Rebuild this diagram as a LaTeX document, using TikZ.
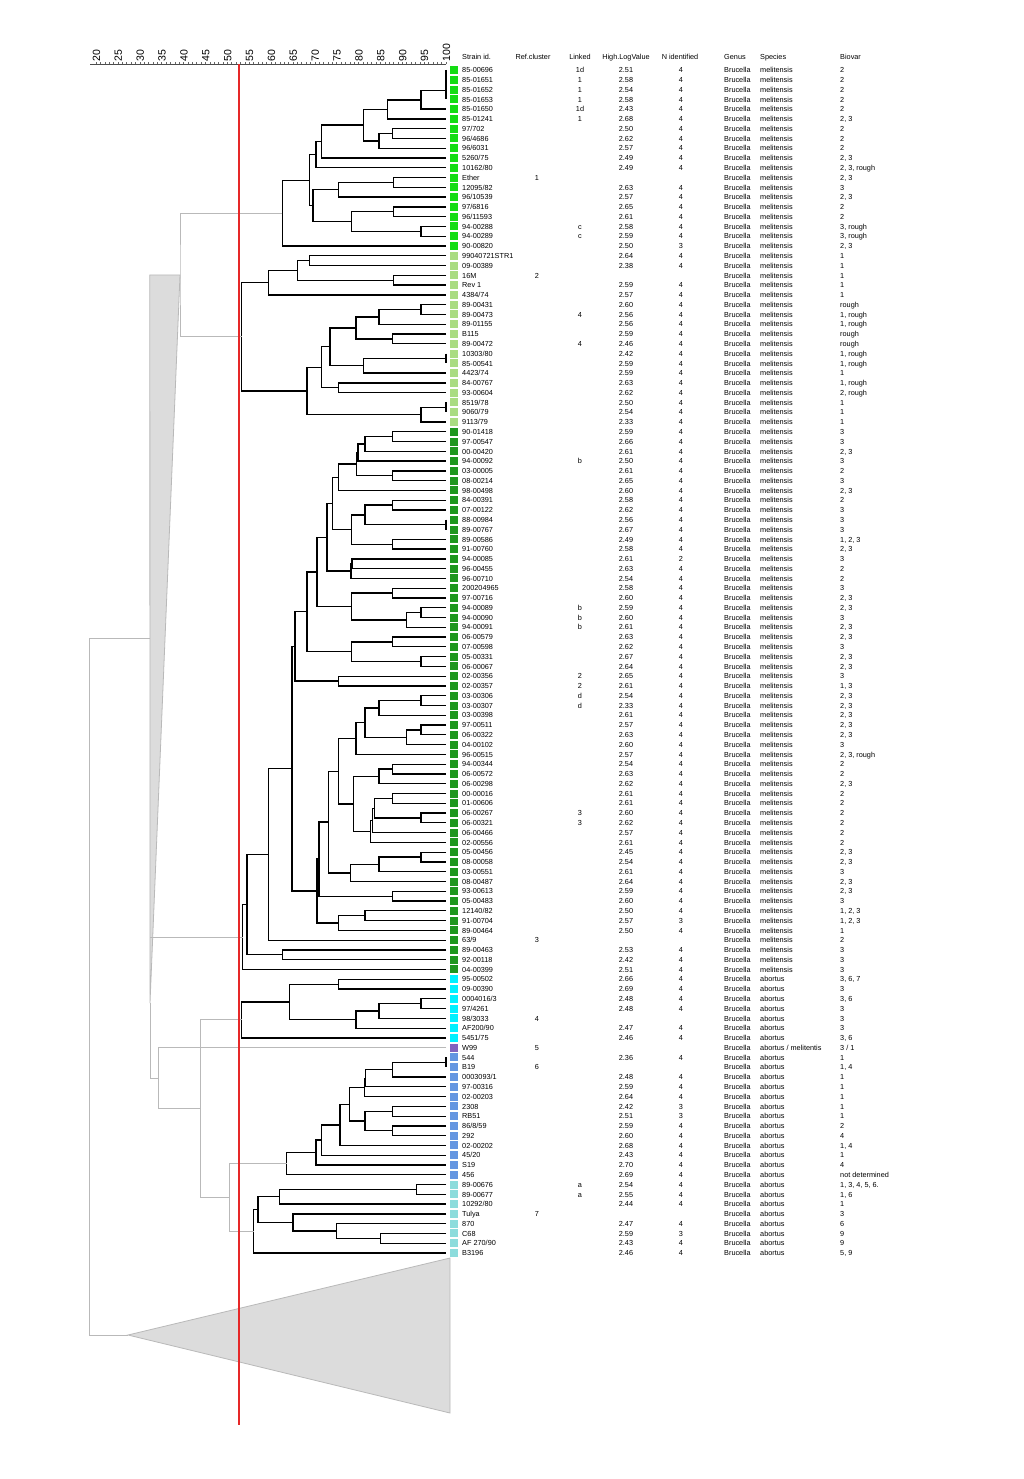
\documentclass[tikz,border=0pt]{standalone}
\usepackage{fontspec}
\setmainfont{Liberation Sans}
\usetikzlibrary{calc}
\definecolor{cA}{RGB}{20,220,20}
\definecolor{cB}{RGB}{170,220,130}
\definecolor{cD}{RGB}{30,150,30}
\definecolor{cC}{RGB}{0,240,255}
\definecolor{cW}{RGB}{130,100,190}
\definecolor{cE}{RGB}{100,150,225}
\definecolor{cF}{RGB}{140,220,220}
\definecolor{redl}{RGB}{230,40,40}
\definecolor{grl}{RGB}{185,185,185}
\definecolor{trif}{RGB}{220,220,220}
\newcommand\rw[9]{%
\coordinate (r#1) at (446,{70+(#1-1)*9.777});
\fill[#2] (450,{66+(#1-1)*9.777}) rectangle (457.5,{74+(#1-1)*9.777});
\node[tl] at (462,{72.7+(#1-1)*9.777}) {#3};
\node[tc] at (537,{72.7+(#1-1)*9.777}) {#4};
\node[tc] at (580,{72.7+(#1-1)*9.777}) {#5};
\node[tc] at (626,{72.7+(#1-1)*9.777}) {#6};
\node[tc] at (681,{72.7+(#1-1)*9.777}) {#7};
\node[tl] at (724,{72.7+(#1-1)*9.777}) {Brucella};
\node[tl] at (760,{72.7+(#1-1)*9.777}) {#8};
\node[tl] at (840,{72.7+(#1-1)*9.777}) {#9};}
\newcommand\jc[4]{\path let \p1=(#3), \p2=(#4) in coordinate (#1) at ({((#2)-20)*4.375pt+96pt},{0.5*\y1+0.5*\y2});}
\newcommand\jn[5][br]{\jc{#2}{#3}{#4}{#5}\draw[#1] (#4) -| (#2) |- (#5);}
\begin{document}
\begin{tikzpicture}[x=1pt,y=-1pt,
  br/.style={line width=1.3pt,black,line join=miter},
  gr/.style={line width=1pt,grl},
  tri/.style={fill=trif,draw=grl,line width=0.8pt},
  tl/.style={font=\fontsize{7.3}{8}\selectfont,inner sep=0pt,anchor=base west},
  tc/.style={font=\fontsize{7.3}{8}\selectfont,inner sep=0pt,anchor=base}]
\useasboundingbox (0,0) rectangle (1024,1479);
\fill[white] (0,0) rectangle (1024,1479);
% axis
\draw[line width=0.6pt,black!70] (90,64.5) -- (446,64.5);
\foreach \s in {20,21,...,100} \draw[black!60,line width=0.5pt] ({(\s-20)*4.375+96},64.5) -- ++(0,-2);
\foreach \s in {20,25,...,100} \node[font=\fontsize{10.5}{11}\selectfont,inner sep=0pt,rotate=90,anchor=west] at ({(\s-20)*4.375+96.5},61.5) {\s};
% headers
\node[tl] at (462,59.5) {Strain id.};
\node[tc] at (533,59.5) {Ref.cluster};
\node[tc] at (580,59.5) {Linked};
\node[tc] at (626,59.5) {High.LogValue};
\node[tc] at (680,59.5) {N identified};
\node[tl] at (724,59.5) {Genus};
\node[tl] at (760,59.5) {Species};
\node[tl] at (840,59.5) {Biovar};
% rows
\rw{1}{cA}{85-00696}{}{1d}{2.51}{4}{melitensis}{2}
\rw{2}{cA}{85-01651}{}{1}{2.58}{4}{melitensis}{2}
\rw{3}{cA}{85-01652}{}{1}{2.54}{4}{melitensis}{2}
\rw{4}{cA}{85-01653}{}{1}{2.58}{4}{melitensis}{2}
\rw{5}{cA}{85-01650}{}{1d}{2.43}{4}{melitensis}{2}
\rw{6}{cA}{85-01241}{}{1}{2.68}{4}{melitensis}{2, 3}
\rw{7}{cA}{97/702}{}{}{2.50}{4}{melitensis}{2}
\rw{8}{cA}{96/4686}{}{}{2.62}{4}{melitensis}{2}
\rw{9}{cA}{96/6031}{}{}{2.57}{4}{melitensis}{2}
\rw{10}{cA}{5260/75}{}{}{2.49}{4}{melitensis}{2, 3}
\rw{11}{cA}{10162/80}{}{}{2.49}{4}{melitensis}{2, 3, rough}
\rw{12}{cA}{Ether}{1}{}{}{}{melitensis}{2, 3}
\rw{13}{cA}{12095/82}{}{}{2.63}{4}{melitensis}{3}
\rw{14}{cA}{96/10539}{}{}{2.57}{4}{melitensis}{2, 3}
\rw{15}{cA}{97/6816}{}{}{2.65}{4}{melitensis}{2}
\rw{16}{cA}{96/11593}{}{}{2.61}{4}{melitensis}{2}
\rw{17}{cA}{94-00288}{}{c}{2.58}{4}{melitensis}{3, rough}
\rw{18}{cA}{94-00289}{}{c}{2.59}{4}{melitensis}{3, rough}
\rw{19}{cA}{90-00820}{}{}{2.50}{3}{melitensis}{2, 3}
\rw{20}{cB}{99040721STR1}{}{}{2.64}{4}{melitensis}{1}
\rw{21}{cB}{09-00389}{}{}{2.38}{4}{melitensis}{1}
\rw{22}{cB}{16M}{2}{}{}{}{melitensis}{1}
\rw{23}{cB}{Rev 1}{}{}{2.59}{4}{melitensis}{1}
\rw{24}{cB}{4384/74}{}{}{2.57}{4}{melitensis}{1}
\rw{25}{cB}{89-00431}{}{}{2.60}{4}{melitensis}{rough}
\rw{26}{cB}{89-00473}{}{4}{2.56}{4}{melitensis}{1, rough}
\rw{27}{cB}{89-01155}{}{}{2.56}{4}{melitensis}{1, rough}
\rw{28}{cB}{B115}{}{}{2.59}{4}{melitensis}{rough}
\rw{29}{cB}{89-00472}{}{4}{2.46}{4}{melitensis}{rough}
\rw{30}{cB}{10303/80}{}{}{2.42}{4}{melitensis}{1, rough}
\rw{31}{cB}{85-00541}{}{}{2.59}{4}{melitensis}{1, rough}
\rw{32}{cB}{4423/74}{}{}{2.59}{4}{melitensis}{1}
\rw{33}{cB}{84-00767}{}{}{2.63}{4}{melitensis}{1, rough}
\rw{34}{cB}{93-00604}{}{}{2.62}{4}{melitensis}{2, rough}
\rw{35}{cB}{8519/78}{}{}{2.50}{4}{melitensis}{1}
\rw{36}{cB}{9060/79}{}{}{2.54}{4}{melitensis}{1}
\rw{37}{cB}{9113/79}{}{}{2.33}{4}{melitensis}{1}
\rw{38}{cD}{90-01418}{}{}{2.59}{4}{melitensis}{3}
\rw{39}{cD}{97-00547}{}{}{2.66}{4}{melitensis}{3}
\rw{40}{cD}{00-00420}{}{}{2.61}{4}{melitensis}{2, 3}
\rw{41}{cD}{94-00092}{}{b}{2.50}{4}{melitensis}{3}
\rw{42}{cD}{03-00005}{}{}{2.61}{4}{melitensis}{2}
\rw{43}{cD}{08-00214}{}{}{2.65}{4}{melitensis}{3}
\rw{44}{cD}{98-00498}{}{}{2.60}{4}{melitensis}{2, 3}
\rw{45}{cD}{84-00391}{}{}{2.58}{4}{melitensis}{2}
\rw{46}{cD}{07-00122}{}{}{2.62}{4}{melitensis}{3}
\rw{47}{cD}{88-00984}{}{}{2.56}{4}{melitensis}{3}
\rw{48}{cD}{89-00767}{}{}{2.67}{4}{melitensis}{3}
\rw{49}{cD}{89-00586}{}{}{2.49}{4}{melitensis}{1, 2, 3}
\rw{50}{cD}{91-00760}{}{}{2.58}{4}{melitensis}{2, 3}
\rw{51}{cD}{94-00085}{}{}{2.61}{2}{melitensis}{3}
\rw{52}{cD}{96-00455}{}{}{2.63}{4}{melitensis}{2}
\rw{53}{cD}{96-00710}{}{}{2.54}{4}{melitensis}{2}
\rw{54}{cD}{200204965}{}{}{2.58}{4}{melitensis}{3}
\rw{55}{cD}{97-00716}{}{}{2.60}{4}{melitensis}{2, 3}
\rw{56}{cD}{94-00089}{}{b}{2.59}{4}{melitensis}{2, 3}
\rw{57}{cD}{94-00090}{}{b}{2.60}{4}{melitensis}{3}
\rw{58}{cD}{94-00091}{}{b}{2.61}{4}{melitensis}{2, 3}
\rw{59}{cD}{06-00579}{}{}{2.63}{4}{melitensis}{2, 3}
\rw{60}{cD}{07-00598}{}{}{2.62}{4}{melitensis}{3}
\rw{61}{cD}{05-00331}{}{}{2.67}{4}{melitensis}{2, 3}
\rw{62}{cD}{06-00067}{}{}{2.64}{4}{melitensis}{2, 3}
\rw{63}{cD}{02-00356}{}{2}{2.65}{4}{melitensis}{3}
\rw{64}{cD}{02-00357}{}{2}{2.61}{4}{melitensis}{1, 3}
\rw{65}{cD}{03-00306}{}{d}{2.54}{4}{melitensis}{2, 3}
\rw{66}{cD}{03-00307}{}{d}{2.33}{4}{melitensis}{2, 3}
\rw{67}{cD}{03-00398}{}{}{2.61}{4}{melitensis}{2, 3}
\rw{68}{cD}{97-00511}{}{}{2.57}{4}{melitensis}{2, 3}
\rw{69}{cD}{06-00322}{}{}{2.63}{4}{melitensis}{2, 3}
\rw{70}{cD}{04-00102}{}{}{2.60}{4}{melitensis}{3}
\rw{71}{cD}{96-00515}{}{}{2.57}{4}{melitensis}{2, 3, rough}
\rw{72}{cD}{94-00344}{}{}{2.54}{4}{melitensis}{2}
\rw{73}{cD}{06-00572}{}{}{2.63}{4}{melitensis}{2}
\rw{74}{cD}{06-00298}{}{}{2.62}{4}{melitensis}{2, 3}
\rw{75}{cD}{00-00016}{}{}{2.61}{4}{melitensis}{2}
\rw{76}{cD}{01-00606}{}{}{2.61}{4}{melitensis}{2}
\rw{77}{cD}{06-00267}{}{3}{2.60}{4}{melitensis}{2}
\rw{78}{cD}{06-00321}{}{3}{2.62}{4}{melitensis}{2}
\rw{79}{cD}{06-00466}{}{}{2.57}{4}{melitensis}{2}
\rw{80}{cD}{02-00556}{}{}{2.61}{4}{melitensis}{2}
\rw{81}{cD}{05-00456}{}{}{2.45}{4}{melitensis}{2, 3}
\rw{82}{cD}{08-00058}{}{}{2.54}{4}{melitensis}{2, 3}
\rw{83}{cD}{03-00551}{}{}{2.61}{4}{melitensis}{3}
\rw{84}{cD}{08-00487}{}{}{2.64}{4}{melitensis}{2, 3}
\rw{85}{cD}{93-00613}{}{}{2.59}{4}{melitensis}{2, 3}
\rw{86}{cD}{05-00483}{}{}{2.60}{4}{melitensis}{3}
\rw{87}{cD}{12140/82}{}{}{2.50}{4}{melitensis}{1, 2, 3}
\rw{88}{cD}{91-00704}{}{}{2.57}{3}{melitensis}{1, 2, 3}
\rw{89}{cD}{89-00464}{}{}{2.50}{4}{melitensis}{1}
\rw{90}{cD}{63/9}{3}{}{}{}{melitensis}{2}
\rw{91}{cD}{89-00463}{}{}{2.53}{4}{melitensis}{3}
\rw{92}{cD}{92-00118}{}{}{2.42}{4}{melitensis}{3}
\rw{93}{cD}{04-00399}{}{}{2.51}{4}{melitensis}{3}
\rw{94}{cC}{95-00502}{}{}{2.66}{4}{abortus}{3, 6, 7}
\rw{95}{cC}{09-00390}{}{}{2.69}{4}{abortus}{3}
\rw{96}{cC}{0004016/3}{}{}{2.48}{4}{abortus}{3, 6}
\rw{97}{cC}{97/4261}{}{}{2.48}{4}{abortus}{3}
\rw{98}{cC}{98/3033}{4}{}{}{}{abortus}{3}
\rw{99}{cC}{AF200/90}{}{}{2.47}{4}{abortus}{3}
\rw{100}{cC}{5451/75}{}{}{2.46}{4}{abortus}{3, 6}
\rw{101}{cW}{W99}{5}{}{}{}{abortus / melitentis}{3 / 1}
\rw{102}{cE}{544}{}{}{2.36}{4}{abortus}{1}
\rw{103}{cE}{B19}{6}{}{}{}{abortus}{1, 4}
\rw{104}{cE}{0003093/1}{}{}{2.48}{4}{abortus}{1}
\rw{105}{cE}{97-00316}{}{}{2.59}{4}{abortus}{1}
\rw{106}{cE}{02-00203}{}{}{2.64}{4}{abortus}{1}
\rw{107}{cE}{2308}{}{}{2.42}{3}{abortus}{1}
\rw{108}{cE}{RB51}{}{}{2.51}{3}{abortus}{1}
\rw{109}{cE}{86/8/59}{}{}{2.59}{4}{abortus}{2}
\rw{110}{cE}{292}{}{}{2.60}{4}{abortus}{4}
\rw{111}{cE}{02-00202}{}{}{2.68}{4}{abortus}{1, 4}
\rw{112}{cE}{45/20}{}{}{2.43}{4}{abortus}{1}
\rw{113}{cE}{S19}{}{}{2.70}{4}{abortus}{4}
\rw{114}{cE}{456}{}{}{2.69}{4}{abortus}{not determined}
\rw{115}{cF}{89-00676}{}{a}{2.54}{4}{abortus}{1, 3, 4, 5, 6.}
\rw{116}{cF}{89-00677}{}{a}{2.55}{4}{abortus}{1, 6}
\rw{117}{cF}{10292/80}{}{}{2.44}{4}{abortus}{1}
\rw{118}{cF}{Tulya}{7}{}{}{}{abortus}{3}
\rw{119}{cF}{870}{}{}{2.47}{4}{abortus}{6}
\rw{120}{cF}{C68}{}{}{2.59}{3}{abortus}{9}
\rw{121}{cF}{AF 270/90}{}{}{2.43}{4}{abortus}{9}
\rw{122}{cF}{B3196}{}{}{2.46}{4}{abortus}{5, 9}
% clade A
\jn{a1}{100}{r1}{r2}
\jn{a2}{100}{a1}{r3}
\jn{a3}{100}{a2}{r4}
\jn{a4}{94.3}{a3}{r5}
\jn{a5}{86.6}{a4}{r6}
\jn{a6}{87.8}{r7}{r8}
\jn{a7}{84.7}{a6}{r9}
\jn{a8}{81.1}{a5}{a7}
\jn{a9}{71.5}{a8}{r10}
\jn{a10}{70.3}{a9}{r11}
\jn{a11}{88}{r12}{r13}
\jn{a12}{75.4}{a11}{r14}
\jn{a13}{88}{r15}{r16}
\jn{a14}{94.3}{r17}{r18}
\jn{a15}{78.4}{a13}{a14}
\jn{a16}{69.6}{a12}{a15}
\jn{a17}{68.8}{a10}{a16}
\jn{aR}{62.6}{a17}{r19}
% clade B
\jn{b1}{68.8}{r20}{r21}
\jn{b2}{88}{r22}{r23}
\jn{b3}{66}{b1}{b2}
\jn{b4}{59.4}{b3}{r24}
\jn{b5}{94.3}{r25}{r26}
\jn{b6}{84.7}{b5}{r27}
\jn{b7}{87.8}{r28}{r29}
\jn{b8}{79.4}{b6}{b7}
\jn{b9}{100}{r30}{r31}
\jn{b10}{81.2}{b9}{r32}
\jn{b11}{73.5}{b8}{b10}
\jn{b12}{75.4}{r33}{r34}
\jn{b13}{71.6}{b11}{b12}
\jn{b14}{100}{r35}{r36}
\jn{b15}{94.3}{b14}{r37}
\jn{b16}{68.2}{b13}{b15}
\jn{bR}{53.3}{b4}{b16}
% clade D
\jn{d1}{87.8}{r38}{r39}
\jn{d2}{81.5}{d1}{r40}
\jn{d3}{79.9}{d2}{r41}
\jn{d4a}{87.8}{r42}{r43}
\jn{d4}{79.6}{d3}{d4a}
\jn{d5}{75.4}{d4}{r44}
\jn{d6}{87.8}{r45}{r46}
\jn{d7}{100}{r47}{r48}
\jn{d8}{81.5}{d6}{d7}
\jn{d9}{87.8}{r49}{r50}
\jn{d10}{78.4}{d8}{d9}
\jn{d11}{74.1}{d5}{d10}
\jn{d12}{78.5}{r51}{r52}
\jn{d13}{78.3}{d12}{r53}
\jn{d14}{72.8}{d11}{d13}
\jn{d15}{87.8}{r54}{r55}
\jn{d16}{94.3}{r56}{r57}
\jn{d17}{90.9}{d16}{r58}
\jn{d18}{78.4}{d15}{d17}
\jn{d19}{70.5}{d14}{d18}
\jn{d20}{87.8}{r59}{r60}
\jn{d21}{94.3}{r61}{r62}
\jn{d22}{78.4}{d20}{d21}
\jn{d23}{68.2}{d19}{d22}
\jn{d24}{75.4}{r63}{r64}
\jn{dP}{65.5}{d23}{d24}
\jn{q1}{94.3}{r65}{r66}
\jn{q2}{84.7}{q1}{r67}
\jn{q3}{94.3}{r68}{r69}
\jn{q4}{90.9}{q3}{r70}
\jn{q5}{81.5}{q2}{q4}
\jn{q6}{79.4}{q5}{r71}
\jn{q7}{87.8}{r72}{r73}
\jn{q8}{84.7}{q7}{r74}
\jn{k1}{87.8}{r75}{r76}
\jn{k2}{94.3}{r77}{r78}
\jn{k3}{83.7}{k1}{k2}
\jn{k4}{83.2}{k3}{r79}
\jn{k5}{82.7}{k4}{r80}
\jn{q9}{78.9}{q8}{k5}
\jn{q10}{75.4}{q6}{q9}
\jn{w1}{94.3}{r81}{r82}
\jn{w2}{84.7}{w1}{r83}
\jn{w3}{78.2}{w2}{r84}
\jn{q11}{73.1}{q10}{w3}
\jn{h1}{87.8}{r85}{r86}
\jn{q12}{71}{q11}{h1}
\jn{h2}{81.5}{r87}{r88}
\jn{h3}{75.4}{h2}{r89}
\jn{dQ}{70.5}{q12}{h3}
\jn{dR}{64.8}{dP}{dQ}
\jn{dS}{59.5}{dR}{r90}
\jn{dT1}{62.6}{r91}{r92}
\jn{dT}{54.5}{dS}{dT1}
\jn{dD}{53.5}{dT}{r93}
% clade C
\jn{c1}{75.4}{r94}{r95}
\jn{c2}{94.3}{r96}{r97}
\jn{c3}{84.7}{c2}{r98}
\jn{c4}{79.4}{c3}{r99}
\jn{c5}{64.3}{c1}{c4}
\jn{cR}{53.3}{c5}{r100}
% clade E
\jn{u1}{100}{r102}{r103}
\jn{u2}{87.8}{u1}{r104}
\jn{u3}{81.6}{u2}{r105}
\jn{u4}{81.4}{u3}{r106}
\jn{u5}{87.8}{r107}{r108}
\jn{u6}{87.8}{r109}{r110}
\jn{u7}{81.5}{u5}{u6}
\jn{u8}{78}{u4}{u7}
\jn{u9}{75.8}{u8}{r111}
\jn{u10}{71.5}{u9}{r112}
\jn{u11}{70.3}{u10}{r113}
\jn{uR}{63.6}{u11}{r114}
% clade F
\jn{v1}{93.3}{r115}{r116}
\jn{v2}{62}{v1}{r117}
\jn{v3}{85}{r120}{r121}
\jn{v4}{75}{r119}{v3}
\jn{v5}{65}{r118}{v4}
\jn{v6}{57}{v2}{v5}
\jn{vR}{56}{v6}{r122}
% grey upper tree
\jn[gr]{gAB}{39.2}{aR}{bR}
\coordinate (gLow) at (150,1003);
\jc{gM}{32.3}{gAB}{gLow}
\filldraw[tri] (gAB) -- (gAB -| gM) -- (gLow) -- cycle;
\draw[gr] (dD) -- (dD -| gM);
\jn[gr]{gEF}{50.6}{uR}{vR}
\jn[gr]{gCE}{43.8}{cR}{gEF}
\jn[gr]{gW}{34.2}{r101}{gCE}
\draw[gr] (gW) -| (gLow);
\coordinate (gBot) at (128,1335);
\jn[gr]{gRoot}{18.6}{gM}{gBot}
\filldraw[tri] (gBot) -- (450,1258) -- (450,1413) -- cycle;
% red cut-off line
\draw[redl,line width=1.2pt] (239,64.5) -- (239,1425);
\end{tikzpicture}
\end{document}
